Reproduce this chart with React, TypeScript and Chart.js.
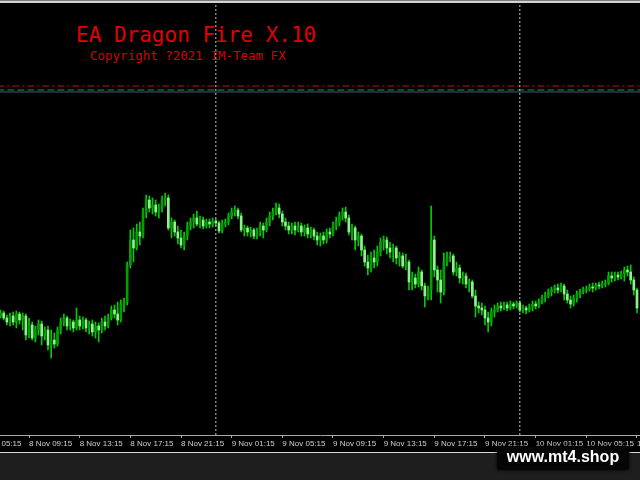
import React, { useEffect, useRef } from "react";
import { Chart, registerables } from "chart.js";

Chart.register(...registerables);

// M15 candles, 8 Nov 07:00 .. 10 Nov 09:15 (price in chart points)
const candleOpen = [
  119, 122, 117, 113, 119, 113, 121, 115, 119, 100,
  110, 97, 105, 111, 99, 105, 90, 95, 91, 105,
  113, 117, 109, 113, 107, 115, 109, 115, 107, 111,
  103, 109, 105, 113, 109, 117, 125, 121, 115, 131,
  133, 170, 195, 187, 203, 199, 223, 235, 227, 230,
  223, 227, 235, 237, 207, 213, 203, 197, 190, 199,
  209, 213, 217, 211, 215, 209, 213, 211, 214, 212,
  204, 211, 213, 219, 223, 225, 219, 205, 207, 203,
  205, 199, 203, 209, 205, 213, 219, 223, 227, 221,
  213, 209, 205, 209, 205, 209, 203, 207, 201, 205,
  199, 195, 199, 195, 203, 201, 209, 213, 219, 223,
  217, 203, 207, 195, 199, 185, 173, 167, 177, 173,
  183, 193, 195, 187, 183, 187, 177, 179, 169, 173,
  153, 157, 151, 163, 149, 139, 145, 195, 165, 155,
  143, 173, 177, 179, 163, 167, 157, 159, 151, 153,
  139, 129, 127, 125, 117, 113, 123, 125, 129, 127,
  130, 127, 131, 129, 132, 125, 127, 125, 128, 131,
  129, 133, 137, 139, 143, 145, 147, 145, 149, 141,
  135, 131, 137, 141, 143, 145, 146, 148, 147, 150,
  149, 151, 152, 159, 157, 160, 158, 161, 165, 163,
  155, 145,
];
const candleHigh = [
  125, 124, 120, 122, 123, 124, 123, 122, 121, 117,
  113, 109, 115, 114, 108, 109, 105, 102, 108, 117,
  121, 119, 116, 115, 127, 119, 118, 117, 114, 115,
  113, 112, 117, 119, 121, 129, 130, 133, 135, 137,
  173, 205, 207, 211, 213, 227, 240, 239, 237, 235,
  231, 239, 242, 240, 217, 215, 209, 205, 203, 213,
  217, 221, 224, 219, 218, 216, 216, 217, 216, 214,
  215, 216, 222, 227, 229, 227, 222, 210, 209, 208,
  207, 207, 213, 212, 217, 223, 227, 232, 231, 224,
  217, 213, 212, 213, 213, 212, 210, 211, 208, 207,
  203, 202, 203, 206, 207, 213, 218, 223, 227, 228,
  220, 211, 209, 203, 201, 189, 180, 183, 185, 189,
  197, 199, 198, 193, 191, 189, 183, 182, 181, 175,
  163, 161, 168, 165, 152, 149, 229, 199, 169, 165,
  182, 183, 183, 181, 173, 170, 163, 162, 156, 155,
  145, 133, 132, 129, 123, 127, 130, 132, 133, 133,
  133, 134, 133, 134, 134, 130, 129, 131, 134, 134,
  136, 140, 143, 146, 148, 150, 151, 152, 151, 145,
  139, 140, 144, 146, 148, 149, 151, 152, 152, 153,
  154, 155, 163, 163, 163, 163, 164, 168, 169, 170,
  158, 147,
];
const candleLow = [
  117, 115, 110, 109, 110, 107, 111, 105, 95, 97,
  95, 93, 100, 90, 95, 85, 77, 87, 89, 101,
  109, 105, 105, 103, 105, 105, 106, 103, 101, 99,
  97, 93, 102, 105, 107, 115, 117, 110, 113, 123,
  130, 167, 173, 185, 190, 197, 217, 223, 221, 219,
  217, 223, 229, 205, 197, 199, 191, 187, 185, 195,
  205, 207, 209, 207, 206, 207, 207, 208, 209, 202,
  202, 208, 210, 216, 219, 216, 203, 199, 199, 198,
  196, 196, 199, 197, 203, 209, 215, 220, 217, 209,
  205, 201, 201, 200, 203, 199, 199, 197, 197, 195,
  190, 189, 191, 192, 197, 199, 205, 209, 215, 213,
  200, 195, 185, 189, 179, 169, 160, 163, 167, 169,
  179, 185, 181, 177, 173, 171, 169, 167, 165, 145,
  145, 147, 148, 145, 128, 135, 135, 158, 143, 132,
  140, 169, 173, 160, 159, 152, 151, 147, 143, 137,
  118, 122, 120, 110, 103, 109, 118, 123, 124, 125,
  124, 125, 126, 127, 123, 122, 121, 123, 124, 126,
  127, 131, 133, 137, 139, 142, 142, 143, 135, 132,
  127, 129, 133, 137, 141, 142, 144, 143, 145, 146,
  147, 148, 150, 153, 154, 155, 156, 154, 159, 151,
  140, 122,
];
const candleClose = [
  122, 117, 113, 119, 113, 121, 115, 119, 100, 110,
  97, 105, 111, 99, 105, 90, 95, 91, 105, 113,
  117, 109, 113, 107, 115, 109, 115, 107, 111, 103,
  109, 105, 113, 109, 117, 125, 121, 115, 131, 133,
  170, 195, 187, 203, 199, 223, 235, 227, 230, 223,
  227, 235, 237, 207, 213, 203, 197, 190, 199, 209,
  213, 217, 211, 215, 209, 213, 211, 214, 212, 204,
  211, 213, 219, 223, 225, 219, 205, 207, 203, 205,
  199, 203, 209, 205, 213, 219, 223, 227, 221, 213,
  209, 205, 209, 205, 209, 203, 207, 201, 205, 199,
  195, 199, 195, 203, 201, 209, 213, 219, 223, 217,
  203, 207, 195, 199, 185, 173, 167, 177, 173, 183,
  193, 195, 187, 183, 187, 177, 179, 169, 173, 153,
  157, 151, 163, 149, 139, 145, 195, 165, 155, 143,
  173, 177, 179, 163, 167, 157, 159, 151, 153, 139,
  129, 127, 125, 117, 113, 123, 125, 129, 127, 130,
  127, 131, 129, 132, 125, 127, 125, 128, 131, 129,
  133, 137, 139, 143, 145, 147, 145, 149, 141, 135,
  131, 137, 141, 143, 145, 146, 148, 147, 150, 149,
  151, 152, 159, 157, 160, 158, 161, 165, 163, 155,
  145, 127,
];

// time axis: candle index of each 4-hour tick, and its label
const tickIndex = [-7, 9, 25, 41, 57, 73, 89, 105, 121, 137, 153, 169, 185, 201];
const tickLabels = [
  "8 Nov 05:15", "8 Nov 09:15", "8 Nov 13:15", "8 Nov 17:15", "8 Nov 21:15",
  "9 Nov 01:15", "9 Nov 05:15", "9 Nov 09:15", "9 Nov 13:15", "9 Nov 17:15",
  "9 Nov 21:15", "10 Nov 01:15", "10 Nov 05:15", "10 Nov 09:15",
];
// first candle of each new day (period separators)
const daySeparators = [68, 164];
// horizontal indicator levels
const levelLines = [349, 345, 343];

export default function App() {
  const ref = useRef<HTMLCanvasElement>(null);

  useEffect(() => {
    const wicks = candleLow.map((l, i) => ({ x: i, y: [l, candleHigh[i]] }));
    const bodies = candleOpen.map((o, i) => ({ x: i, y: [o, candleClose[i]] }));
    const bodyColors = candleOpen.map((o, i) => (candleClose[i] >= o ? "#00a000" : "#8ef08e"));
    const levelStyles = [
      { color: "#b01818", dash: [7, 3, 2, 3] },
      { color: "#1f9a48", dash: [7, 3] },
      { color: "#46557a", dash: [] as number[] },
    ];

    const chart = new Chart(ref.current as HTMLCanvasElement, {
      type: "bar",
      data: {
        datasets: [
          ...daySeparators.map((s) => ({
            type: "line" as const,
            data: [{ x: s, y: 0 }, { x: s, y: 432 }],
            borderColor: "#c4c4c4",
            borderWidth: 1,
            borderDash: [2, 2],
            pointRadius: 0,
            order: 0,
          })),
          ...levelLines.map((v, k) => ({
            type: "line" as const,
            data: [{ x: -1, y: v }, { x: 203, y: v }],
            borderColor: levelStyles[k].color,
            borderWidth: 1,
            borderDash: levelStyles[k].dash,
            pointRadius: 0,
            order: 0,
          })),
          {
            type: "bar" as const,
            data: wicks as any,
            backgroundColor: "#00cc00",
            barThickness: 1,
            grouped: false,
            order: 2,
          },
          {
            type: "bar" as const,
            data: bodies as any,
            backgroundColor: bodyColors,
            barThickness: 2,
            grouped: false,
            order: 1,
          },
        ] as any,
      },
      options: {
        animation: false,
        responsive: false,
        maintainAspectRatio: false,
        layout: { padding: { top: 3, left: 0, right: 0, bottom: 0 } },
        plugins: {
          legend: { display: false },
          tooltip: { enabled: false },
          title: { display: false },
        },
        scales: {
          x: {
            type: "linear",
            min: -0.16,
            max: 201.95,
            offset: false,
            grid: {
              offset: false,
              drawOnChartArea: false,
              drawTicks: true,
              tickLength: 3,
              color: "#a8a8a8",
            },
            border: { display: true, color: "#a8a8a8", width: 1 },
            ticks: {
              autoSkip: false,
              maxRotation: 0,
              minRotation: 0,
              align: "start",
              padding: 1,
              color: "#d0d0d0",
              font: { family: "'Liberation Sans', Arial, sans-serif", size: 8 },
              callback: (_v: any, index: number) => tickLabels[index] ?? "",
            },
            afterBuildTicks: (s: any) => {
              s.ticks = tickIndex.map((v) => ({ value: v }));
            },
            afterFit: (s: any) => {
              s.height = 45;
              s.paddingLeft = 0;
              s.paddingRight = 0;
            },
          } as any,
          y: { display: false, min: 0, max: 432 },
        },
      },
    });
    return () => chart.destroy();
  }, []);

  return (
    <div
      style={{
        position: "fixed",
        left: 0,
        top: 0,
        width: 640,
        height: 480,
        background: "#000",
        overflow: "hidden",
      }}
    >
      <div
        style={{
          position: "absolute",
          left: 76,
          top: 25,
          fontFamily: "'DejaVu Sans Mono', monospace",
          fontSize: 21,
          lineHeight: "21px",
          color: "#e20000",
          whiteSpace: "pre",
        }}
      >
        EA Dragon Fire X.10
      </div>
      <div
        style={{
          position: "absolute",
          left: 90,
          top: 50,
          fontFamily: "'DejaVu Sans Mono', monospace",
          fontSize: 12.5,
          lineHeight: "12.5px",
          color: "#d40000",
          whiteSpace: "pre",
        }}
      >
        Copyright ?2021 IM-Team FX
      </div>
      <canvas
        ref={ref}
        width={640}
        height={480}
        style={{ position: "absolute", left: 0, top: 0, width: 640, height: 480, display: "block" }}
      />
      <div
        style={{
          position: "absolute",
          left: 0,
          top: 0,
          width: 640,
          height: 3,
          background: "linear-gradient(#7c7c7c 0px, #7c7c7c 1px, #d2d2d2 1px, #d2d2d2 3px)",
        }}
      />
      <div style={{ position: "absolute", left: 0, top: 452, width: 640, height: 1, background: "#d8d8d8" }} />
      <div style={{ position: "absolute", left: 0, top: 453, width: 640, height: 27, background: "#1e1e1e" }} />
      <div
        style={{
          position: "absolute",
          left: 497,
          top: 447,
          width: 132,
          height: 23,
          background: "#050505",
          borderRadius: 3,
          boxShadow: "0 0 3px 1px rgba(0,0,0,0.6)",
          color: "#ffffff",
          fontFamily: "'Liberation Sans', Arial, sans-serif",
          fontWeight: "bold",
          fontSize: 16,
          lineHeight: "19px",
          textAlign: "center",
        }}
      >
        www.mt4.shop
      </div>
    </div>
  );
}
